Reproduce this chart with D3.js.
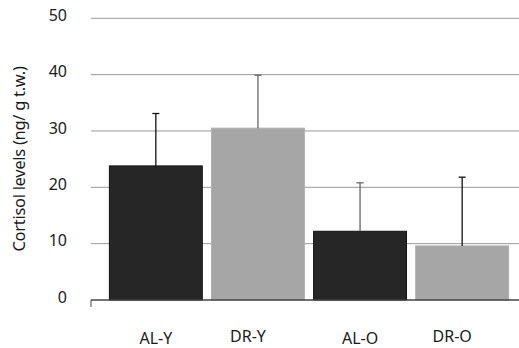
<!DOCTYPE html>
<html lang="en">
<head>
    <meta charset="UTF-8">
    <title>Cortisol levels</title>
    <script src="https://d3js.org/d3.v7.min.js"></script>
    <style>
      body { margin: 0; background: #fff; }
      text { font-family: "Noto Sans", "Open Sans", sans-serif; fill: #1a1a1a; }
    </style>
</head>
<body>
    <svg id="chart" width="519" height="348"></svg>

    <script>
        // data
        var groups = ["AL-Y", "DR-Y", "AL-O", "DR-O"];
        var means = [23.8, 30.5, 12.2, 9.6];
        var errors = [9.3, 9.4, 8.6, 12.2];
        var yTicks = [0, 10, 20, 30, 40, 50];

        var svg = d3.select("#chart");

        var plotLeft = 91, plotRight = 519, plotTop = 18.3, plotBottom = 300;

        var x = d3.scaleBand()
            .domain(groups)
            .range([plotLeft, 527])
            .paddingInner(0.09)
            .paddingOuter(0.18);

        var y = d3.scaleLinear()
            .domain([0, 50])
            .range([plotBottom, plotTop]);

        // gridlines
        svg.append("g")
          .selectAll("line")
          .data(yTicks.filter(d => d > 0))
          .enter().append("line")
            .attr("x1", plotLeft).attr("x2", plotRight)
            .attr("y1", d => y(d)).attr("y2", d => y(d))
            .attr("stroke", "#9a9a9a")
            .attr("stroke-width", 1);

        // y tick labels
        svg.append("g")
          .selectAll("text")
          .data(yTicks)
          .enter().append("text")
            .attr("x", 67)
            .attr("y", d => y(d) - 3)
            .attr("dy", "0.35em")
            .attr("text-anchor", "end")
            .attr("font-size", 16)
            .text(d => d);

        // bars
        var fills = ["#262626", "#a6a6a6", "#262626", "#a6a6a6"];
        svg.append("g")
          .selectAll("rect")
          .data(groups)
          .enter().append("rect")
            .attr("x", d => x(d))
            .attr("width", x.bandwidth())
            .attr("y", (d, i) => y(means[i]))
            .attr("height", (d, i) => plotBottom - y(means[i]))
            .attr("fill", (d, i) => fills[i])
            .attr("stroke", (d, i) => i % 2 ? "#b0b0b0" : "#111")
            .attr("stroke-width", 1);

        // error bars (upper only)
        var errCol = ["#111", "#666", "#666", "#111"];
        var err = svg.append("g")
          .selectAll("g")
          .data(groups)
          .enter().append("g");
        err.append("line")
            .attr("x1", d => x(d) + x.bandwidth() / 2)
            .attr("x2", d => x(d) + x.bandwidth() / 2)
            .attr("y1", (d, i) => y(means[i]))
            .attr("y2", (d, i) => y(means[i] + errors[i]))
            .attr("stroke", (d, i) => errCol[i])
            .attr("stroke-width", 1.3);
        err.append("line")
            .attr("x1", d => x(d) + x.bandwidth() / 2 - 3.5)
            .attr("x2", d => x(d) + x.bandwidth() / 2 + 3.5)
            .attr("y1", (d, i) => y(means[i] + errors[i]))
            .attr("y2", (d, i) => y(means[i] + errors[i]))
            .attr("stroke", (d, i) => errCol[i])
            .attr("stroke-width", 1.3);

        // x axis line + small left tick
        svg.append("line")
            .attr("x1", plotLeft).attr("x2", plotRight)
            .attr("y1", plotBottom).attr("y2", plotBottom)
            .attr("stroke", "#444").attr("stroke-width", 1.3);
        svg.append("line")
            .attr("x1", plotLeft).attr("x2", plotLeft)
            .attr("y1", plotBottom).attr("y2", plotBottom + 7)
            .attr("stroke", "#444").attr("stroke-width", 1);

        // category labels
        svg.append("g")
          .selectAll("text")
          .data(groups)
          .enter().append("text")
            .attr("x", d => x(d) + x.bandwidth() / 2 - (d.startsWith("DR") ? 10 : 0))
            .attr("y", d => d.startsWith("DR") ? 342 : 344)
            .attr("text-anchor", "middle")
            .attr("font-size", 16)
            .text(d => d);

        // y title
        svg.append("text")
            .attr("transform", "translate(25,159) rotate(-90)")
            .attr("text-anchor", "middle")
            .attr("font-size", 16.5)
            .attr("letter-spacing", "-0.3")
            .text("Cortisol levels (ng/ g t.w.)");
    </script>
</body>
</html>
